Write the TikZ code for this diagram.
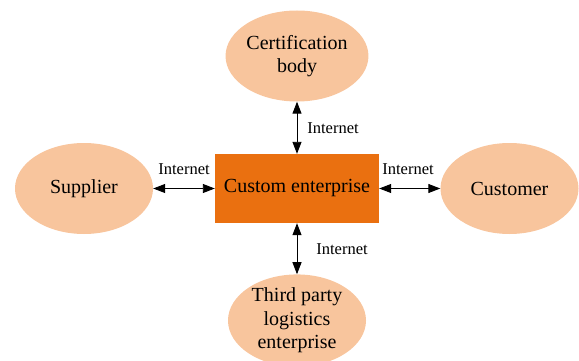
\documentclass[tikz,border=0pt]{standalone}
\usepackage{fontspec}
\setmainfont{Liberation Serif}
\usetikzlibrary{shapes.geometric,arrows.meta}
\definecolor{partyfill}{RGB}{248,197,157}
\definecolor{corefill}{RGB}{234,112,16}
\tikzset{
  party/.style={ellipse, fill=partyfill, minimum width=138pt, minimum height=91pt,
    inner sep=0pt, align=center, font=\fontsize{20}{23.5}\selectfont},
  core/.style={rectangle, fill=corefill, minimum width=164pt, minimum height=69pt,
    inner sep=0pt, font=\fontsize{20}{23.5}\selectfont},
  link/.style={{Triangle[length=12pt,width=9pt]}-{Triangle[length=12pt,width=9pt]}, line width=0.9pt},
  linklabel/.style={inner sep=0pt, font=\fontsize{16.5}{19}\selectfont}
}
\begin{document}
\begin{tikzpicture}[x=1pt,y=-1pt]
  \useasboundingbox (0,0) rectangle (579,361);
  % enterprise at the centre, partners around it
  \node[core] (ce) at (297,188.5) {Custom enterprise};
  \node[party] (cert) at (297,56) {Certification\\body};
  \node[party] (sup) at (84,188.5) {Supplier};
  \node[party] (cust) at (509.5,188.5) {Customer};
  \node[party] (tpl) at (297,320.5) {Third party\\logistics\\enterprise};
  % internet links
  \draw[link] (cert.south) -- (ce.north);
  \draw[link] (sup.east) -- (ce.west);
  \draw[link] (ce.east) -- (cust.west);
  \draw[link] (ce.south) -- (tpl.north);
  % link labels
  \node[linklabel] (lt) at (333,128) {Internet};
  \node[linklabel] (ll) at (184,169) {Internet};
  \node[linklabel] (lr) at (408,169) {Internet};
  \node[linklabel] (lb) at (342,249) {Internet};
\end{tikzpicture}
\end{document}
